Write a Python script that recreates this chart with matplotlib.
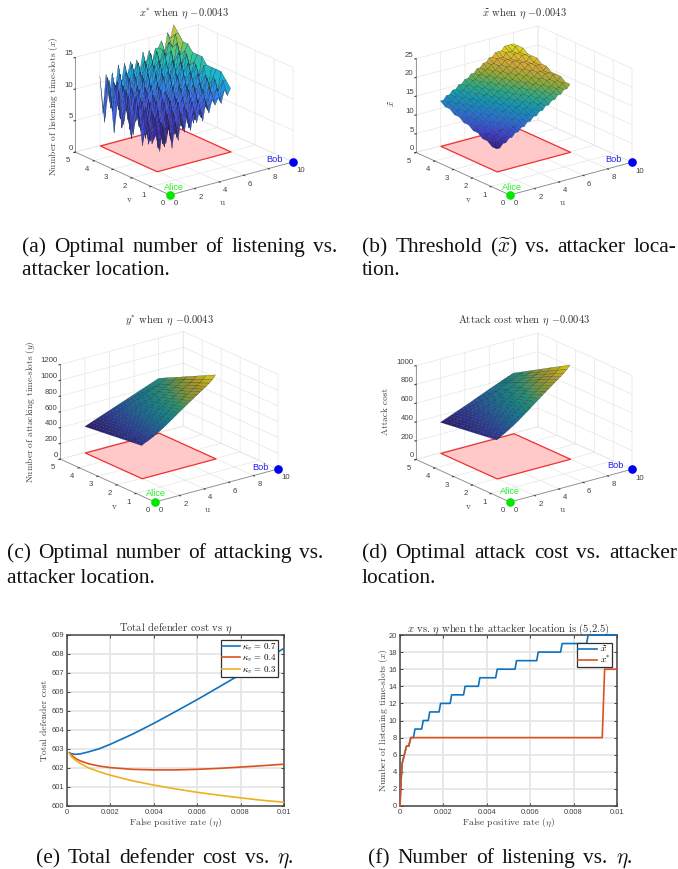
import matplotlib
matplotlib.use("Agg")
import numpy as np
import matplotlib.pyplot as plt
from matplotlib.colors import LinearSegmentedColormap
from mpl_toolkits.mplot3d import proj3d

plt.rcParams['font.family'] = ['Liberation Sans', 'DejaVu Sans']
plt.rcParams['mathtext.fontset'] = 'cm'
plt.rcParams['axes.unicode_minus'] = False

W, H = 678, 869

# ---------- data ----------
u_fine = [2, 2.25, 2.5, 2.75, 3, 3.25, 3.5, 3.75, 4, 4.25, 4.5, 4.75, 5, 5.25, 5.5, 5.75, 6, 6.25, 6.5, 6.75, 7, 7.25, 7.5, 7.75, 8]
v_fine = [2, 2.25, 2.5, 2.75, 3, 3.25, 3.5, 3.75, 4, 4.25, 4.5, 4.75, 5]
v_coarse = [2, 2.5, 3, 3.5, 4, 4.5, 5]
plane_u = [2, 8]
plane_v = [2, 5]

x_star = [
    [6,3,7,4,7,3,7,4,8,5,8,5,8,6,8,6,9,7,9,8,9,8,10,9,10],
    [4,8,3,7,3,8,4,8,4,8,5,8,5,9,6,9,6,9,7,10,8,10,8,11,11],
    [8,4,8,5,7,3,8,5,8,4,9,5,8,6,9,5,9,6,10,7,10,8,11,9,12],
    [3,9,3,8,5,8,4,9,4,9,5,9,6,9,6,10,6,10,7,10,8,11,9,11,12],
    [9,5,8,4,9,5,9,5,9,5,9,6,9,6,10,6,10,7,10,8,10,8,11,9,12],
    [4,10,5,9,3,9,5,9,5,10,6,9,6,10,7,10,7,10,8,11,8,11,9,12,12],
    [10,3,9,6,9,4,10,5,9,6,10,6,9,7,10,7,11,8,11,8,11,9,12,10,13],
    [5,10,4,10,5,10,5,10,6,10,6,10,7,11,7,11,8,11,8,12,9,12,10,12,13],
    [10,4,10,5,10,6,10,6,11,7,10,7,11,8,11,8,11,9,12,9,12,10,13,11,13],
    [3,11,5,10,6,11,6,11,7,11,7,11,8,12,8,12,9,12,9,12,10,13,11,13,14],
    [11,6,10,6,10,7,11,7,11,8,11,8,12,9,12,9,12,10,13,10,13,11,14,12,14],
    [4,11,6,10,7,11,8,11,8,12,9,12,9,12,10,13,10,13,11,13,12,14,13,15,15],
    [11,5,11,7,11,8,12,9,12,10,12,10,12,10,13,11,13,11,13,13,14,12,15,14,16],
]
x_tilde = [
    [6,6,7,7,8,8,9,9,10,10,11,11,12,12,13,13,14,14,15,15,16,16,17,17,18],
    [6,7,7,8,8,9,9,10,10,11,11,12,12,13,13,14,14,15,15,16,16,17,17,18,18],
    [7,7,8,8,9,9,10,10,11,11,12,12,13,13,14,14,15,15,16,16,17,17,18,18,19],
    [7,8,8,9,9,10,10,11,11,12,12,13,13,14,14,15,15,16,16,17,17,18,18,19,19],
    [8,8,9,9,10,10,11,11,12,12,13,13,14,14,15,15,16,16,17,17,18,18,19,19,19],
    [8,9,9,10,10,11,11,12,12,13,13,14,14,15,15,16,16,17,17,18,18,19,19,19,20],
    [9,9,10,10,11,11,12,12,13,13,14,14,15,15,16,16,17,17,18,18,19,19,20,20,20],
    [9,10,10,11,11,12,12,13,13,14,14,15,15,16,16,17,17,18,18,19,19,20,20,20,21],
    [10,10,11,11,12,12,13,13,14,14,15,15,16,16,17,17,18,18,19,19,20,20,20,21,21],
    [10,11,11,12,12,13,13,14,14,15,15,16,16,17,17,18,18,19,19,20,20,20,21,21,21],
    [11,11,12,12,13,13,14,14,15,15,16,16,17,17,18,18,19,19,20,20,20,21,21,21,22],
    [11,12,12,13,13,14,14,15,15,16,16,17,17,18,18,19,19,20,20,20,21,21,21,22,22],
    [12,12,13,13,14,14,15,15,16,16,17,17,18,18,19,19,20,20,21,21,21,22,22,22,22],
]
y_star = [
    [415,437,452,472,493,516,540,565,592,620,648,676,705,733,760,788,815,842,868,895,921,948,977,1012,1060],
    [401,422,437,456,476,498,520,543,568,594,620,646,672,698,723,749,774,799,823,848,872,897,924,956,998],
    [387,406,421,440,459,479,500,522,545,568,592,616,640,664,687,710,733,756,779,802,824,847,871,900,937],
    [372,391,406,424,441,460,480,500,521,543,564,586,608,629,650,672,693,714,734,755,775,797,818,844,875],
    [358,375,390,407,424,442,460,478,497,517,536,555,575,594,613,633,652,671,689,708,727,746,765,787,813],
    [344,360,375,391,407,423,440,457,474,491,508,525,542,559,577,594,611,628,645,662,678,695,713,731,752],
    [330,345,360,375,390,405,420,435,450,465,480,495,510,525,540,555,570,585,600,615,630,645,660,675,690],
]
attack_cost = [
    [410,430,448,467,487,508,530,553,578,603,628,653,680,706,731,757,782,807,832,857,881,906,932,962,1000],
    [396,415,432,450,469,488,509,530,553,576,599,622,647,671,694,719,742,765,788,811,833,856,880,907,940],
    [382,400,416,433,451,469,488,508,529,550,571,592,615,637,658,680,701,722,743,764,785,806,827,851,881],
    [368,384,400,416,432,449,467,485,504,523,542,561,582,602,621,641,661,680,699,718,736,755,775,796,821],
    [354,369,384,399,414,430,446,462,479,496,513,531,549,567,585,603,621,638,655,672,688,705,723,741,761],
    [340,354,368,382,396,410,425,440,455,470,485,500,517,533,549,565,580,595,610,625,640,655,670,685,701],
    [326,339,352,365,378,391,404,417,430,443,456,470,484,498,512,526,540,553,566,579,592,605,618,630,642],
]

eta_e = [0.00012, 0.0002, 0.0004, 0.0006, 0.001, 0.0015, 0.002, 0.003, 0.004, 0.005, 0.006, 0.007, 0.008, 0.009, 0.01]
cost_07 = [602.8, 602.75, 602.72, 602.74, 602.85, 603.02, 603.25, 603.77, 604.35, 604.97, 605.6, 606.26, 606.93, 607.6, 608.3]
cost_04 = [602.8, 602.68, 602.5, 602.38, 602.22, 602.1, 602.02, 601.93, 601.9, 601.9, 601.93, 601.98, 602.05, 602.12, 602.2]
cost_03 = [602.75, 602.6, 602.4, 602.25, 602.0, 601.8, 601.62, 601.33, 601.1, 600.9, 600.72, 600.57, 600.43, 600.3, 600.2]

eta_tilde = [0, 0.00005, 0.0001, 0.0002, 0.0003, 0.0004, 0.0005, 0.00062, 0.00069, 0.00100, 0.00107, 0.00130, 0.00137, 0.00180, 0.00187,
             0.00231, 0.00238, 0.00293, 0.00300, 0.00361, 0.00368, 0.00441, 0.00448, 0.00530, 0.00537, 0.00630, 0.00637, 0.00740, 0.00747,
             0.00860, 0.00867, 0.01]
val_tilde = [0, 3, 5, 6, 7, 7, 8, 8, 9, 9, 10, 10, 11, 11, 12, 12, 13, 13, 14, 14, 15, 15, 16, 16, 17, 17, 18, 18, 19, 19, 20, 20]
eta_star = [0, 0.00005, 0.0001, 0.0002, 0.0003, 0.0004, 0.0005, 0.00932, 0.00943, 0.01]
val_star = [0, 3, 5, 6, 7, 7, 8, 8, 16, 16]

u_ticks = [0, 2, 4, 6, 8, 10]
v_ticks = [0, 1, 2, 3, 4, 5]
eta_ticks = [0, 0.002, 0.004, 0.006, 0.008, 0.01]
eta_labels = ['0', '0.002', '0.004', '0.006', '0.008', '0.01']

cm_bright = LinearSegmentedColormap.from_list('parula', ['#3e26a8', '#4852f4', '#2d87f7', '#12b1d6', '#37c897', '#abc739', '#fec338', '#f9fb15'])
cm_mid = LinearSegmentedColormap.from_list('parula_m', ['#35208f', '#3d46cf', '#2672d2', '#0f96b6', '#2faa80', '#91a930', '#d8a630', '#e0dc12'])
cm_dark = LinearSegmentedColormap.from_list('parula_d', ['#2a1f70', '#2b3a95', '#1f5f96', '#127f88', '#2a9070', '#7f9430', '#b09a28', '#c8bf10'])

fig = plt.figure(figsize=(W / 100, H / 100), dpi=100)
fig.patch.set_facecolor('white')
SERIF = 'cmr10'
GREY = '#404040'


def ftext(x, y, s, **kw):
    return fig.text(x / W, 1 - y / H, s, **kw)


def proj(ax, p):
    xs, ys, _ = proj3d.proj_transform(p[0], p[1], p[2], ax.get_proj())
    return ax.transData.transform((xs, ys))


def fit(ax, zero, right, zmax):
    """Size and place the 3D axes so that the u axis runs from `zero` to `right` (pixels)."""
    S = 300.0
    ax.set_position([100 / W, 100 / H, S / W, S / H])
    ax.apply_aspect()
    a = proj(ax, (0, 0, 0))
    b = proj(ax, (10, 0, 0))
    S2 = S * (right[0] - zero[0]) / (b[0] - a[0])
    ax.set_position([100 / W, 100 / H, S2 / W, S2 / H])
    ax.apply_aspect()
    a = proj(ax, (0, 0, 0))
    dx = zero[0] - a[0]
    dy = (H - zero[1]) - a[1]
    ax.set_position([(100 + dx) / W, (100 + dy) / H, S2 / W, S2 / H])
    ax.apply_aspect()


def left_z_edge(minmax, maxmin, position=None):
    """Keep the z axis on the left vertical edge of the box, as in the reference."""
    xlo = min(minmax[0], maxmin[0])
    yhi = max(minmax[1], maxmin[1])
    return (np.array([xlo, yhi, min(minmax[2], maxmin[2])]),
            np.array([xlo, yhi, max(minmax[2], maxmin[2])]))


def panel3d(zero, right, z, uu, vv, cmap, zlim, zticks, title, title_xy, zlabel, zlab_xy, alice_xy, bob_xy, u_xy, v_xy, edge, lw, cmax=None):
    ax = fig.add_subplot(projection='3d', computed_zorder=False)
    ax.set_proj_type('ortho')
    ax.view_init(elev=20.4, azim=-127.6)
    ax.set_box_aspect((1, 1, 0.65))
    ax.set_xlim(0, 10); ax.set_ylim(0, 5); ax.set_zlim(*zlim)
    ax.patch.set_alpha(0)
    fit(ax, zero, right, zlim[1])
    ax.set_xticks(u_ticks); ax.set_yticks(v_ticks); ax.set_zticks(zticks)
    ax.tick_params(labelsize=5.6, colors=GREY, pad=-4.5, length=0)
    ax.tick_params(axis='z', pad=-7)
    for axis in (ax.xaxis, ax.yaxis, ax.zaxis):
        axis.set_pane_color((1, 1, 1, 0))
        axis.pane.set_edgecolor('#e4e4e4')
        axis.line.set_color('#8a8a8a')
        axis.line.set_linewidth(0.6)
        axis._axinfo['grid'].update(color='#e6e6e6', linewidth=0.5)
        axis._axinfo['tick'].update(inward_factor=0.12, outward_factor=0.0)
    ax.zaxis._get_axis_line_edge_points = left_z_edge
    for t in ax.xaxis.get_major_ticks():
        t.label1.set_ha('left')
    for t in ax.yaxis.get_major_ticks():
        t.label1.set_ha('right')
    for t in ax.zaxis.get_major_ticks():
        t.label1.set_ha('right')
        t.label1.set_va('bottom')
    pu, pv = np.meshgrid(plane_u, plane_v)
    ax.plot_surface(pu, pv, np.zeros_like(pu), color='#ffc9c9', edgecolor='#f03030', linewidth=0.9, shade=False, zorder=1)
    U, V = np.meshgrid(uu, vv)
    Z = np.array(z, dtype=float)
    ax.plot_surface(U, V, Z, cmap=cmap, vmax=cmax, edgecolor=edge, linewidth=lw, shade=False, rstride=1, cstride=1, zorder=2, antialiased=True)
    ax.plot([0], [0], [0], 'o', color='#00e800', ms=5.2, zorder=5, clip_on=False)
    ax.plot([10], [0], [0], 'o', color='#0000f0', ms=5.2, zorder=5, clip_on=False)
    ftext(alice_xy[0], alice_xy[1], 'Alice', color='#20f020', fontsize=6.6, ha='center', va='center')
    ftext(bob_xy[0], bob_xy[1], 'Bob', color='#2020f0', fontsize=6.6, ha='center', va='center')
    ftext(title_xy[0], title_xy[1], title, fontname=SERIF, fontsize=7.6, color='#303030', ha='center', va='center')
    ftext(zlab_xy[0], zlab_xy[1], zlabel, fontname=SERIF, fontsize=6.7, color=GREY, ha='center', va='center', rotation=90)
    ftext(u_xy[0], u_xy[1], 'u', fontname=SERIF, fontsize=6.7, color=GREY, ha='center', va='center')
    ftext(v_xy[0], v_xy[1], 'v', fontname=SERIF, fontsize=6.7, color=GREY, ha='center', va='center')
    return ax


panel3d((170, 195), (293, 162), x_star, u_fine, v_fine, cm_bright, (0, 15), [0, 5, 10, 15],
        r'$x^{*}$ when $\eta$ $-$0.0043', (184, 14), r'Number of listening time-slots ($x$)', (54, 106),
        (174, 187), (274, 160), (222, 203), (129, 200), '#1a2a3a', 0.2, cmax=18)
panel3d((510, 195), (632, 162), x_tilde, u_fine, v_fine, cm_mid, (0, 25), [0, 5, 10, 15, 20, 25],
        r'$\widetilde{x}$ when $\eta$ $-$0.0043', (524, 14), r'$\widetilde{x}$', (392, 103),
        (512, 187), (613, 160), (562, 203), (468, 200), '#10202a', 0.15)
panel3d((155, 502), (278, 468), y_star, u_fine, v_coarse, cm_dark, (0, 1200), [0, 200, 400, 600, 800, 1000, 1200],
        r'$y^{*}$ when $\eta$ $-$0.0043', (170, 321), r'Number of attacking time-slots ($y$)', (31, 412),
        (156, 494), (260, 467), (207, 510), (114, 507), '#12182a', 0.15)
panel3d((510, 502), (632, 468), attack_cost, u_fine, v_coarse, cm_dark, (0, 1000), [0, 200, 400, 600, 800, 1000],
        r'Attack cost when $\eta$ $-$0.0043', (524, 321), 'Attack cost', (386, 411),
        (510, 491), (615, 466), (562, 510), (468, 507), '#12182a', 0.15)


def panel2d(rect, ylim, yticks, title, ylabel, ylabpad):
    l, t, r, b = rect
    ax = fig.add_axes([l / W, 1 - b / H, (r - l) / W, (b - t) / H])
    ax.set_xlim(0, 0.01); ax.set_ylim(*ylim)
    ax.set_xticks(eta_ticks); ax.set_xticklabels(eta_labels)
    ax.set_yticks(yticks)
    ax.tick_params(labelsize=5.4, colors=GREY, direction='in', length=2, width=0.7, pad=2, top=True, right=True)
    ax.grid(True, color='#e6e6e6', linewidth=1.3)
    ax.set_axisbelow(True)
    for s in ax.spines.values():
        s.set_color('#454545'); s.set_linewidth(1.1)
    ax.set_title(title, fontname=SERIF, fontsize=7.6, color='#303030', pad=2.5)
    ax.set_xlabel(r'False positive rate ($\eta$)', fontname=SERIF, fontsize=6.9, color=GREY, labelpad=1)
    ax.set_ylabel(ylabel, fontname=SERIF, fontsize=6.9, color=GREY, labelpad=ylabpad)
    return ax


def legend(ax, anchor, size):
    leg = ax.legend(loc='upper right', bbox_to_anchor=anchor, fancybox=False, framealpha=1, edgecolor='#303030',
                    prop={'family': SERIF, 'size': size}, borderpad=0.12, labelspacing=0.0, handlelength=2.0,
                    handletextpad=0.3, borderaxespad=0)
    leg.get_frame().set_linewidth(0.9)
    leg.set_zorder(6)


ax = panel2d((67, 635, 284, 806), (600, 609), list(range(600, 610)), r'Total defender cost vs $\eta$', 'Total defender cost', 2)
ax.plot(eta_e, cost_07, color='#0f72bd', lw=1.2, label=r'$\kappa_{v}$ = 0.7', zorder=3)
ax.plot(eta_e, cost_04, color='#d9531e', lw=1.2, label=r'$\kappa_{v}$ = 0.4', zorder=3)
ax.plot(eta_e, cost_03, color='#edb120', lw=1.2, label=r'$\kappa_{v}$ = 0.3', zorder=3)
legend(ax, (0.972, 0.971), 6.4)

ax = panel2d((400, 635, 617, 806), (0, 20), list(range(0, 21, 2)), r'$x$ vs. $\eta$ when the attacker location is (5,2.5)', r'Number of listening time-slots ($x$)', -1)
ax.plot(eta_tilde, val_tilde, color='#0f72bd', lw=1.2, label=r'$\widetilde{x}$', zorder=3, clip_on=False)
ax.plot(eta_star, val_star, color='#d9531e', lw=1.2, label=r'$x^{*}$', zorder=3, clip_on=False)
legend(ax, (0.977, 0.953), 6.8)


# ---------- captions ----------
fig.canvas.draw()
rend = fig.canvas.get_renderer()
CAP = 15.4


def justified(x0, x1, y, words):
    tx = [ftext(0, y, w, fontname='Liberation Serif', fontsize=CAP, color='#111111', va='baseline') for w in words]
    wid = [t.get_window_extent(rend).width for t in tx]
    gap = (x1 - x0 - sum(wid)) / (len(words) - 1)
    x = x0
    for t, w in zip(tx, wid):
        t.set_x(x / W)
        x += w + gap


justified(22, 337, 252, ['(a)', 'Optimal', 'number', 'of', 'listening', 'vs.'])
ftext(22, 275, 'attacker location.', fontname='Liberation Serif', fontsize=CAP, color='#111111', va='baseline')
justified(362, 676, 252, ['(b)', 'Threshold', r'($\widetilde{x}$)', 'vs.', 'attacker', 'loca-'])
ftext(362, 275, 'tion.', fontname='Liberation Serif', fontsize=CAP, color='#111111', va='baseline')
justified(7, 323, 558, ['(c)', 'Optimal', 'number', 'of', 'attacking', 'vs.'])
ftext(7, 583, 'attacker location.', fontname='Liberation Serif', fontsize=CAP, color='#111111', va='baseline')
justified(362, 677, 558, ['(d)', 'Optimal', 'attack', 'cost', 'vs.', 'attacker'])
ftext(362, 583, 'location.', fontname='Liberation Serif', fontsize=CAP, color='#111111', va='baseline')
justified(36, 293, 863, ['(e)', 'Total', 'defender', 'cost', 'vs.', r'$\eta$.'])
justified(368, 632, 863, ['(f)', 'Number', 'of', 'listening', 'vs.', r'$\eta$.'])

fig.savefig('out.png', dpi=100, facecolor='white')
